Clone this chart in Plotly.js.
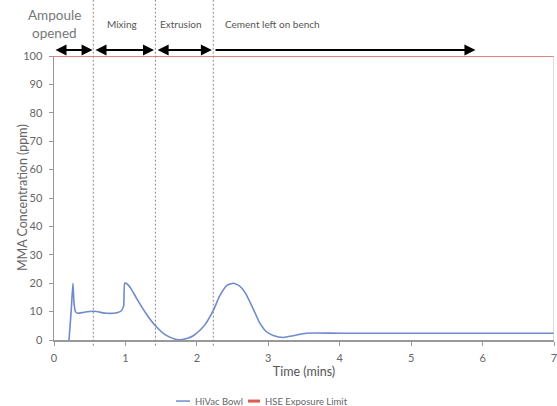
<!DOCTYPE html>
<html>
<head>
<meta charset="utf-8">
<script src="https://cdn.plot.ly/plotly-3.0.1.min.js"></script>
<style>html,body{margin:0;padding:0;background:#fff;}#chart{width:557px;height:406px;}</style>
</head>
<body>
<div id="chart"></div>
<script>
// Data
const timeMins = [0.21, 0.24, 0.265, 0.28, 0.30, 0.33, 0.42, 0.56, 0.74, 0.88, 0.94, 0.975, 0.99, 1.02, 1.08, 1.16, 1.30, 1.42, 1.56, 1.70, 1.77, 1.87, 1.95, 2.05, 2.12, 2.23, 2.32, 2.42, 2.51, 2.60, 2.68, 2.79, 2.88, 2.97, 3.07, 3.21, 3.35, 3.53, 4.0, 5.0, 6.0, 7.0];
const hivacPpm = [0, 10, 20, 13, 10, 9.4, 9.8, 10.1, 9.4, 9.6, 10.2, 12, 20, 19.8, 18, 14.5, 8.9, 5.0, 1.8, 0.3, 0.1, 0.6, 1.5, 3.6, 5.6, 10.4, 15.5, 19.2, 20, 19, 16.5, 10.9, 6, 3, 1.6, 0.9, 1.5, 2.4, 2.4, 2.4, 2.4, 2.4];
const limitX = [0, 7];
const limitPpm = [100, 100];
const seriesNames = ['HiVac Bowl', 'HSE Exposure Limit'];
const phaseNames = ["Ampoule<br>opened", "Mixing", "Extrusion", "Cement left on bench"];
const phaseStart = [0, 0.56, 1.43, 2.24];
const phaseEnd = [0.54, 1.40, 2.21, 5.9];
const phaseLabelX = [0.01, 0.95, 1.78, 3.06];
const dividerX = [0.55, 1.42, 2.23];
const yTicks = [0, 10, 20, 30, 40, 50, 60, 70, 80, 90, 100];
const xTicks = [0, 1, 2, 3, 4, 5, 6, 7];

const font = "Lato, 'Open Sans', sans-serif";
const blue = '#6f8bcb', red = '#dd5a55';
const traces = [
  {x: timeMins, y: hivacPpm, type: 'scatter', mode: 'lines', name: seriesNames[0],
   line: {color: blue, width: 1.6, shape: 'spline', smoothing: 0.5}},
  {x: limitX, y: limitPpm, type: 'scatter', mode: 'lines', name: seriesNames[1],
   line: {color: red, width: 1.3}}
];

const annotations = [];
const shapes = [];
phaseNames.forEach((n, i) => {
  annotations.push({x: phaseEnd[i], y: 1.021, ax: phaseStart[i], ay: 0, axref: 'x', ayref: 'pixel',
    xref: 'x', yref: 'paper', text: '', showarrow: true, arrowhead: 2, arrowsize: 1.1, arrowwidth: 2,
    arrowcolor: '#000', arrowside: i < 3 ? 'end+start' : 'end', startarrowhead: 2, startarrowsize: 1.1,
    standoff: 0, startstandoff: 0});
  const first = i === 0;
  const lines = n.split('<br>');
  lines.forEach((ln, k) => {
    annotations.push({x: phaseLabelX[i], y: first ? 1.146 - 0.064 * k : 1.113,
      xref: 'x', yref: 'paper', text: ln,
      showarrow: false, xanchor: 'center', yanchor: 'middle',
      font: {family: font, size: first ? 13.5 : 10, color: first ? '#777' : '#555'}});
  });
});
dividerX.forEach(x => shapes.push({type: 'line', x0: x, x1: x, yref: 'paper', y0: -0.02, y1: 1.2,
  line: {color: '#888', width: 1, dash: '2px,2px'}}));
shapes.push({type: 'line', x0: 7, x1: 7, yref: 'paper', y0: 0, y1: 1, line: {color: '#bbb', width: 1}});

// y-axis title placed like the reference (close to tick labels)
annotations.push({xref: 'paper', yref: 'paper', x: -0.064, y: 0.5, text: 'MMA Concentration (ppm)',
  textangle: -90, showarrow: false, xanchor: 'center', yanchor: 'middle',
  font: {family: font, size: 12.5, color: '#666'}});

// custom legend (compact, as in the reference)
const legX = [0.244, 0.388];
const legW = [0.028, 0.024];
const legColors = [blue, red];
const legWidths = [1.5, 3];
seriesNames.forEach((n, i) => {
  shapes.push({type: 'line', xref: 'paper', yref: 'paper', x0: legX[i], x1: legX[i] + legW[i], y0: -0.215, y1: -0.215,
    line: {color: legColors[i], width: legWidths[i]}});
  annotations.push({xref: 'paper', yref: 'paper', x: legX[i] + legW[i] + 0.005, y: -0.215, text: n,
    showarrow: false, xanchor: 'left', yanchor: 'middle', font: {family: font, size: 9.5, color: '#666'}});
});

const layout = {
  width: 557, height: 406,
  margin: {l: 54, r: 3, t: 56, b: 66},
  paper_bgcolor: '#fff', plot_bgcolor: '#fff',
  font: {family: font, color: '#555', size: 11},
  showlegend: false,
  xaxis: {range: [0, 7], tickvals: xTicks, showgrid: false, zeroline: false, automargin: false,
    showline: true, linecolor: '#999', linewidth: 1.5, ticks: 'outside', ticklen: 4, tickcolor: '#999',
    ticklabelstandoff: 3, ticklabeloverflow: 'allow',
    title: {text: 'Time (mins)', font: {family: font, size: 12.5, color: '#555'}, standoff: 4},
    tickfont: {family: font, size: 11, color: '#666'}},
  yaxis: {range: [0, 100], tickvals: yTicks, showgrid: false, zeroline: false, automargin: false,
    showline: true, linecolor: '#999', linewidth: 1.5, ticks: 'outside', ticklen: 4, tickcolor: '#999',
    ticklabelstandoff: 4,
    tickfont: {family: font, size: 11, color: '#666'}},
  annotations: annotations,
  shapes: shapes
};
Plotly.newPlot('chart', traces, layout, {displayModeBar: false, staticPlot: true});
</script>
</body>
</html>
